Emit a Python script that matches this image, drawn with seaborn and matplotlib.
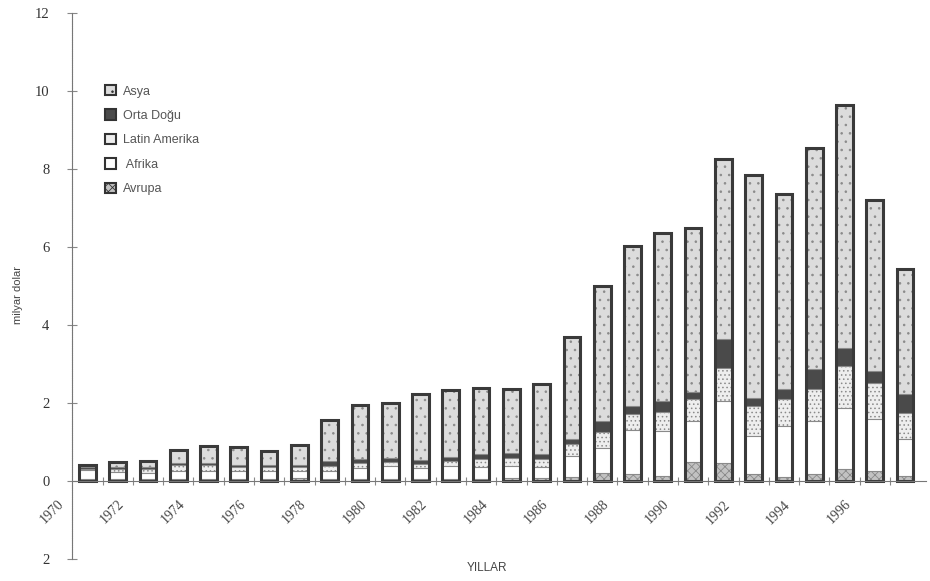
import matplotlib
matplotlib.use("Agg")
import matplotlib.pyplot as plt
import seaborn as sns
import numpy as np
from matplotlib.patches import Patch

# Veriler (milyar dolar), grafikten okunan yaklaşık değerler
years = [1971, 1972, 1973, 1974, 1975, 1976, 1977, 1978, 1979, 1980,
         1981, 1982, 1983, 1984, 1985, 1986, 1987, 1988, 1989, 1990,
         1991, 1992, 1993, 1994, 1995, 1996, 1997, 1998]

avrupa = [0.05, 0.05, 0.05, 0.05, 0.05, 0.05, 0.05, 0.08, 0.06, 0.06,
          0.06, 0.06, 0.06, 0.06, 0.08, 0.08, 0.10, 0.20, 0.17, 0.13,
          0.49, 0.47, 0.17, 0.10, 0.17, 0.30, 0.26, 0.13]
afrika = [0.22, 0.17, 0.15, 0.20, 0.20, 0.20, 0.20, 0.17, 0.20, 0.28,
          0.32, 0.28, 0.32, 0.30, 0.30, 0.28, 0.55, 0.65, 1.15, 1.15,
          1.05, 1.58, 0.98, 1.31, 1.37, 1.58, 1.32, 0.94]
latin_amerika = [0.05, 0.10, 0.10, 0.15, 0.15, 0.10, 0.10, 0.10, 0.12, 0.12,
                 0.10, 0.10, 0.12, 0.20, 0.22, 0.20, 0.30, 0.40, 0.40, 0.50,
                 0.57, 0.86, 0.77, 0.68, 0.81, 1.07, 0.94, 0.68]
orta_dogu = [0.03, 0.05, 0.05, 0.05, 0.05, 0.05, 0.05, 0.05, 0.12, 0.10,
             0.10, 0.10, 0.12, 0.14, 0.12, 0.14, 0.12, 0.30, 0.20, 0.27,
             0.17, 0.72, 0.22, 0.26, 0.51, 0.47, 0.30, 0.47]
asya = [0.07, 0.11, 0.15, 0.35, 0.45, 0.47, 0.37, 0.53, 1.07, 1.39,
        1.42, 1.70, 1.72, 1.68, 1.65, 1.78, 2.61, 3.45, 4.10, 4.30,
        4.22, 4.62, 5.71, 5.00, 5.69, 6.22, 4.38, 3.21]

label_years = [1970, 1972, 1974, 1976, 1978, 1980, 1982, 1984, 1986,
               1988, 1990, 1992, 1994, 1996]
y_ticks = [-2, 0, 2, 4, 6, 8, 10, 12]
y_tick_labels = ["2", "0", "2", "4", "6", "8", "10", "12"]

# seriler alttan üste
series = [
    ("Avrupa", avrupa, "#c2c2c2", "xxxx"),
    ("Afrika", afrika, "#ffffff", None),
    ("Latin Amerika", latin_amerika, "#eeeeee", "...."),
    ("Orta Doğu", orta_dogu, "#4a4a4a", None),
    ("Asya", asya, "#dcdcdc", ".."),
]

sns.set_style("white")
plt.rcParams['font.family'] = ['Liberation Sans', 'DejaVu Sans']
plt.rcParams['hatch.linewidth'] = 0.6

fig = plt.figure(figsize=(9.3, 5.81), dpi=100)
ax = fig.add_axes([0.0516, 0.0379, 0.9444, 0.9397])

# kümülatif toplamlar, en üstteki seriden başlayarak çiz
cum = np.cumsum([np.array(s[1]) for s in series], axis=0)
for i in range(len(series) - 1, -1, -1):
    name, vals, col, hatch = series[i]
    sns.barplot(x=years, y=cum[i], native_scale=True, width=0.55,
                color=col, saturation=1, errorbar=None,
                edgecolor="#8a8a8a", linewidth=0.8, hatch=hatch, ax=ax)

# kalın dış çerçeve
sns.barplot(x=years, y=cum[-1], native_scale=True, width=0.55,
            fill=False, color="#3a3a3a", linewidth=2.2, errorbar=None, ax=ax)

ax.set_xlim(1969.7, 1998.7)
ax.set_ylim(-2, 12)
ax.set_xlabel("")
ax.set_ylabel("")

# eksenler
for s in ['top', 'right']:
    ax.spines[s].set_visible(False)
ax.spines['left'].set_position(('data', 1970.5))
ax.spines['bottom'].set_position(('data', 0))
ax.spines['bottom'].set_bounds(1970.5, 1998.7)
ax.spines['left'].set_color('#777777')
ax.spines['bottom'].set_color('#777777')
ax.spines['left'].set_linestyle((0, (1, 0.6)))

ax.set_yticks(y_ticks)
ax.set_yticklabels(y_tick_labels, family='Liberation Serif', fontsize=10.5, color='#333333')
ax.tick_params(axis='y', left=True, direction='inout', length=7, width=0.8,
               color='#888888', pad=13)

ax.set_xticks(label_years)
ax.set_xticklabels([str(y) for y in label_years], family='Liberation Serif',
                   fontsize=10, color='#444444', rotation=45, ha='right',
                   rotation_mode='anchor')
ax.tick_params(axis='x', which='major', bottom=True, length=0, pad=12)
ax.set_xticks([y + 0.5 for y in years[:-1]], minor=True)
ax.tick_params(axis='x', which='minor', bottom=True, direction='inout', length=6,
               width=0.8, color='#888888')

# lejant
handles = [
    Patch(facecolor="#dcdcdc", edgecolor="#333333", hatch="..", linewidth=1.5, label="Asya"),
    Patch(facecolor="#4a4a4a", edgecolor="#333333", linewidth=1.5, label="Orta Doğu"),
    Patch(facecolor="#eeeeee", edgecolor="#333333", linewidth=1.5, label="Latin Amerika"),
    Patch(facecolor="#ffffff", edgecolor="#333333", linewidth=1.5, label=" Afrika"),
    Patch(facecolor="#c2c2c2", edgecolor="#333333", hatch="xxxx", linewidth=1.5, label="Avrupa"),
]
leg = fig.legend(handles=handles, loc='upper left', bbox_to_anchor=(100 / 930, 1 - 80 / 581),
                 frameon=False, fontsize=9, handlelength=0.9, handleheight=0.9,
                 handletextpad=0.5, labelspacing=0.95, borderaxespad=0)
for t in leg.get_texts():
    t.set_color('#555555')

fig.text(487 / 930, 1 - 568 / 581, "YILLAR", ha='center', va='center',
         fontsize=8.5, color='#444444')
fig.text(18 / 930, 1 - 295 / 581, "milyar dolar", ha='center', va='center',
         rotation=90, fontsize=8, color='#444444')

fig.savefig("out.png", dpi=100)
